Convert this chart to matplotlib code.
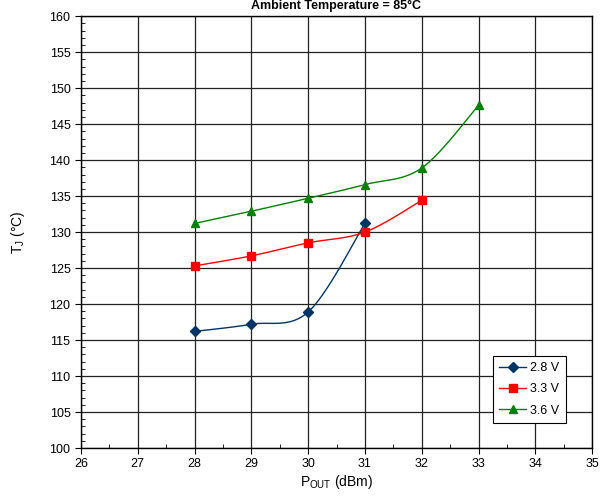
import matplotlib
matplotlib.use("Agg")
import matplotlib.pyplot as plt
import numpy as np
from matplotlib.ticker import MultipleLocator

plt.rcParams['font.family'] = ['Liberation Sans', 'DejaVu Sans']

# data
pout_28 = [28, 29, 30, 31]
tj_28 = [116.2, 117.2, 118.9, 131.2]
pout_33 = [28, 29, 30, 31, 32]
tj_33 = [125.3, 126.7, 128.5, 130.0, 134.4]
pout_36 = [28, 29, 30, 31, 32, 33]
tj_36 = [131.2, 132.9, 134.7, 136.6, 138.9, 147.6]

series = [
    ("2.8 V", pout_28, tj_28, "#003366", "D", 5),
    ("3.3 V", pout_33, tj_33, "#FF0000", "s", 6),
    ("3.6 V", pout_36, tj_36, "#008000", "^", 6),
]


def smooth(x, y, n=30):
    # Catmull-Rom style smoothing like a spreadsheet "smoothed line"
    x = np.asarray(x, float)
    y = np.asarray(y, float)
    px = np.concatenate([[x[0]], x, [x[-1]]])
    py = np.concatenate([[y[0]], y, [y[-1]]])
    xs, ys = [], []
    for i in range(1, len(px) - 2):
        t = np.linspace(0, 1, n)
        for arr, out in ((px, xs), (py, ys)):
            p0, p1, p2, p3 = arr[i - 1], arr[i], arr[i + 1], arr[i + 2]
            m1 = (p2 - p0) / 2
            m2 = (p3 - p1) / 2
            h00 = 2 * t**3 - 3 * t**2 + 1
            h10 = t**3 - 2 * t**2 + t
            h01 = -2 * t**3 + 3 * t**2
            h11 = t**3 - t**2
            out.extend(h00 * p1 + h10 * m1 + h01 * p2 + h11 * m2)
    return xs, ys


fig = plt.figure(figsize=(6.13, 5.04), dpi=100)
ax = fig.add_axes([0.132, 0.111, 0.834, 0.857])

for label, x, y, color, marker, ms in series:
    sx, sy = smooth(x, y)
    ax.plot(sx, sy, color=color, lw=1.0)
    ax.plot(x, y, linestyle="none", marker=marker, color=color, ms=ms)
    ax.plot([], [], color=color, lw=1.0, marker=marker, ms=ms, label=label)

ax.set_xlim(26, 35)
ax.set_ylim(100, 160)
ax.xaxis.set_major_locator(MultipleLocator(1))
ax.xaxis.set_minor_locator(MultipleLocator(0.5))
ax.yaxis.set_major_locator(MultipleLocator(5))
ax.yaxis.set_minor_locator(MultipleLocator(1))
ax.tick_params(which="major", direction="out", length=4, labelsize=9, color="black")
ax.tick_params(which="minor", direction="in", length=3, color="black")
ax.grid(True, which="major", color="#222222", lw=0.9)
ax.set_axisbelow(True)
for sp in ax.spines.values():
    sp.set_color("black")
    sp.set_linewidth(1.0)

ax.set_xlabel(r"$\mathregular{P_{OUT}}$ (dBm)", fontsize=10, labelpad=2)
ax.set_ylabel(r"$\mathregular{T_J}$ (°C)", fontsize=10, labelpad=16)

fig.text(0.548, 1 - 6 / 504, "Ambient Temperature = 85°C", ha="center", va="center",
         fontsize=9, fontweight="bold")

leg = ax.legend(loc="lower right", bbox_to_anchor=(0.948, 0.058), fontsize=9,
                frameon=True, fancybox=False, handlelength=2.2, borderpad=0.5,
                labelspacing=0.75, handletextpad=0.3, borderaxespad=0)
leg.get_frame().set_edgecolor("black")
leg.get_frame().set_linewidth(0.8)
leg.get_frame().set_alpha(1)

fig.savefig("out.png", dpi=100)
